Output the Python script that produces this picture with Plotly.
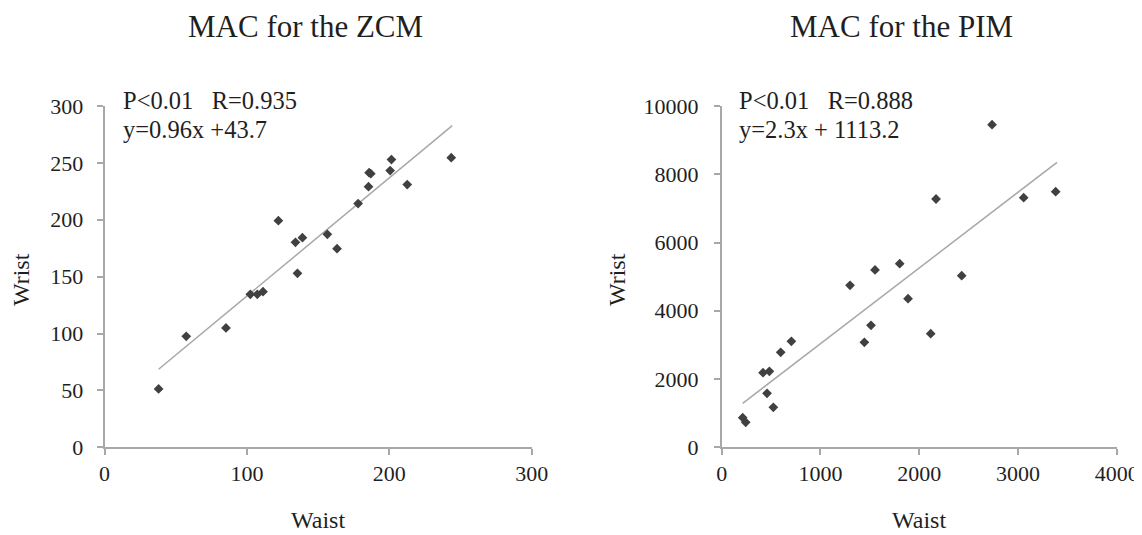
import plotly.graph_objects as go

W, H = 1142, 535
OFF = 8  # page body margin offset in the screenshot

# ---- data: MAC for the ZCM ----
zcm_waist = [38.0, 57.4, 85.3, 102.4, 107.3, 111.3, 122.1, 134.1, 135.5, 139.0,
             156.5, 163.3, 178.1, 185.4, 185.8, 187.0, 200.6, 201.5, 212.6, 243.5]
zcm_wrist = [51.3, 97.6, 104.9, 134.5, 134.5, 136.8, 199.2, 180.2, 152.9, 184.3,
             187.2, 174.6, 214.2, 229.1, 241.4, 240.5, 243.2, 252.9, 230.9, 254.6]
zcm_trend_x = [38.0, 244.2]
zcm_trend_y = [68.6, 282.7]
zcm_xticks = [0, 100, 200, 300]
zcm_yticks = [0, 50, 100, 150, 200, 250, 300]

# ---- data: MAC for the PIM ----
pim_waist = [212.7, 243, 418.6, 482.7, 459, 523, 597.5, 705.5, 1299.6, 1444.7,
             1512, 1552.7, 1802.5, 1887, 2116.5, 2170.5, 2430.4, 2737.6, 3058, 3382]
pim_wrist = [869, 732, 2187, 2227, 1582, 1172, 2783, 3105, 4746, 3076,
             3574, 5195, 5381, 4355, 3330, 7275, 5029, 9453, 7314, 7490]
pim_trend_x = [212.7, 3396]
pim_trend_y = [1289, 8350]
pim_xticks = [0, 1000, 2000, 3000, 4000]
pim_yticks = [0, 2000, 4000, 6000, 8000, 10000]

titles = ["MAC for the ZCM", "MAC for the PIM"]
stats = ["P<0.01\u00a0\u00a0 R=0.935", "P<0.01\u00a0\u00a0 R=0.888"]
eqs = ["y=0.96x +43.7", "y=2.3x + 1113.2"]

FONT = "Liberation Serif"
TXT = "#1f1f1f"
AX = "#a8a8a8"
MK = "#404040"

fig = go.Figure()

for i, (xs, ys, tx, ty) in enumerate([
        (zcm_waist, zcm_wrist, zcm_trend_x, zcm_trend_y),
        (pim_waist, pim_wrist, pim_trend_x, pim_trend_y)]):
    xa = "x" if i == 0 else "x2"
    ya = "y" if i == 0 else "y2"
    fig.add_trace(go.Scatter(x=tx, y=ty, mode="lines", xaxis=xa, yaxis=ya,
                             line=dict(color=AX, width=1.5), showlegend=False,
                             hoverinfo="skip"))
    fig.add_trace(go.Scatter(x=xs, y=ys, mode="markers", xaxis=xa, yaxis=ya,
                             marker=dict(symbol="diamond", size=7.5, color=MK,
                                         line=dict(width=0)),
                             cliponaxis=False, showlegend=False))

def px_x(p):
    return (p - OFF) / W

def px_y(p):
    return 1 - (p - OFF) / H

axis_common = dict(showgrid=False, zeroline=False, showline=True, linecolor=AX,
                   linewidth=1.5, ticks="outside", ticklen=6, tickcolor=AX,
                   tickwidth=1.5, tickfont=dict(family=FONT, size=22, color=TXT),
                   fixedrange=True, automargin=False)

ydom = [px_y(447.3), px_y(106)]
fig.update_layout(
    width=W, height=H, margin=dict(l=0, r=0, t=0, b=0, pad=0, autoexpand=False),
    paper_bgcolor="white", plot_bgcolor="white", showlegend=False,
    font=dict(family=FONT, color=TXT),
    xaxis=dict(domain=[px_x(104.5), px_x(531.7)], range=[0, 300],
               tickvals=zcm_xticks, ticktext=[str(v) for v in zcm_xticks],
               anchor="y", ticklabelstandoff=0, **axis_common),
    yaxis=dict(domain=ydom, range=[0, 300],
               tickvals=zcm_yticks, ticktext=[str(v) for v in zcm_yticks],
               anchor="x", ticklabelstandoff=9, **axis_common),
    xaxis2=dict(domain=[px_x(721.7), px_x(1116.7)], range=[0, 4000],
                tickvals=pim_xticks, ticktext=[str(v) for v in pim_xticks],
                anchor="y2", ticklabelstandoff=0, **axis_common),
    yaxis2=dict(domain=ydom, range=[0, 10000],
                tickvals=pim_yticks, ticktext=[str(v) for v in pim_yticks],
                anchor="x2", ticklabelstandoff=11, **axis_common),
)

anns = []
# titles
for cx, t in zip([305, 901], titles):
    anns.append(dict(text=t, x=px_x(cx), y=px_y(27), xref="paper", yref="paper",
                     xanchor="center", yanchor="middle", showarrow=False,
                     font=dict(family=FONT, size=31, color=TXT)))
# stats + equations
for lx, s, e in zip([121, 737], stats, eqs):
    anns.append(dict(text=s, x=px_x(lx), y=px_y(101), xref="paper", yref="paper",
                     xanchor="left", yanchor="middle", showarrow=False,
                     font=dict(family=FONT, size=24.5, color=TXT)))
    anns.append(dict(text=e, x=px_x(lx), y=px_y(130), xref="paper", yref="paper",
                     xanchor="left", yanchor="middle", showarrow=False,
                     font=dict(family=FONT, size=24.5, color=TXT)))
# axis titles
for cx in [318, 919]:
    anns.append(dict(text="Waist", x=px_x(cx), y=px_y(520), xref="paper", yref="paper",
                     xanchor="center", yanchor="middle", showarrow=False,
                     font=dict(family=FONT, size=24, color=TXT)))
for cx in [21, 617]:
    anns.append(dict(text="Wrist", x=px_x(cx), y=px_y(280), xref="paper", yref="paper",
                     xanchor="center", yanchor="middle", showarrow=False, textangle=-90,
                     font=dict(family=FONT, size=24, color=TXT)))
fig.update_layout(annotations=anns)

fig.write_html("out.html")
